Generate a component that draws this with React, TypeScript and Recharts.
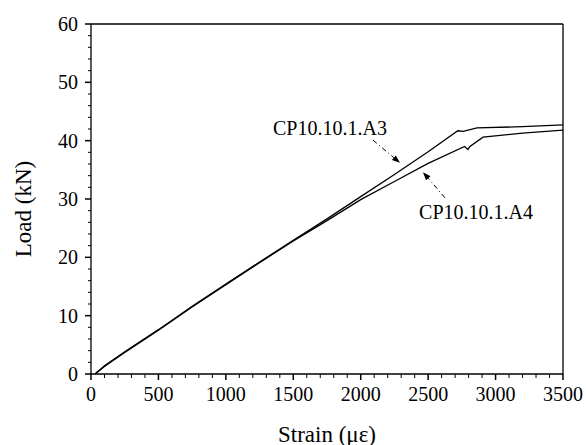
import React from "react";
import {
  LineChart,
  Line,
  XAxis,
  YAxis,
  ReferenceLine,
  ReferenceDot,
} from "recharts";

// strain (με) vs load (kN)
const a3Strain = [30, 100, 250, 500, 750, 1000, 1250, 1500, 1750, 2000, 2250, 2500, 2720, 2760, 2862, 3200, 3500];
const a3Load = [0, 1.4, 3.8, 7.6, 11.6, 15.4, 19.2, 22.9, 26.6, 30.4, 34.2, 38.1, 41.7, 41.6, 42.2, 42.4, 42.7];

const a4Strain = [30, 100, 250, 500, 750, 1000, 1250, 1500, 1750, 2000, 2250, 2500, 2770, 2795, 2810, 2907, 3200, 3500];
const a4Load = [0, 1.3, 3.7, 7.5, 11.5, 15.3, 19.1, 22.8, 26.3, 29.9, 33.0, 36.1, 39.0, 38.5, 39.0, 40.6, 41.3, 41.8];

const xTicks = Array.from({ length: 36 }, (_, i) => i * 100);
const yTicks = Array.from({ length: 31 }, (_, i) => i * 2);

const a3 = a3Strain.map((x, i) => ({ x, load: a3Load[i] }));
const a4 = a4Strain.map((x, i) => ({ x, load: a4Load[i] }));

const FONT = "'Liberation Serif', 'DejaVu Serif', 'Times New Roman', serif";
const txt = { fontFamily: FONT, fill: "#000" };

const XTick = ({ x, y, payload }: any) => {
  const major = payload.value % 500 === 0;
  return (
    <g>
      <line x1={x} x2={x} y1={y} y2={y + (major ? 6 : 4)} stroke="#000" strokeWidth={major ? 1.5 : 1} />
      {major && (
        <text x={x} y={y + 20} textAnchor="middle" dominantBaseline="central" style={{ ...txt, fontSize: 20 }}>
          {payload.value}
        </text>
      )}
    </g>
  );
};

const YTick = ({ x, y, payload }: any) => {
  const major = payload.value % 10 === 0;
  return (
    <g>
      <line x1={x} x2={x - (major ? 6 : 3)} y1={y} y2={y} stroke="#000" strokeWidth={major ? 1.5 : 1} />
      {major && (
        <text x={x - 13} y={y} textAnchor="end" dominantBaseline="central" style={{ ...txt, fontSize: 20 }}>
          {payload.value}
        </text>
      )}
    </g>
  );
};

// dash-dot pointer with a filled head at the second point
const Arrow = ({ x1, y1, x2, y2 }: any) => {
  const ang = Math.atan2(y2 - y1, x2 - x1);
  const len = 8;
  const w = 3;
  const bx = x2 - len * Math.cos(ang);
  const by = y2 - len * Math.sin(ang);
  const px = -Math.sin(ang) * w;
  const py = Math.cos(ang) * w;
  return (
    <g>
      <line x1={x1} y1={y1} x2={bx} y2={by} stroke="#000" strokeWidth={1} strokeDasharray="5 3 1 3" />
      <polygon points={`${x2},${y2} ${bx + px},${by + py} ${bx - px},${by - py}`} fill="#000" />
    </g>
  );
};

const annoLabel = (text: string) => ({
  content: (p: any) => (
    <text
      x={p.viewBox.x + (p.viewBox.width || 0) / 2}
      y={p.viewBox.y + (p.viewBox.height || 0) / 2}
      textAnchor="middle"
      dominantBaseline="central"
      style={{ ...txt, fontSize: 20 }}
    >
      {text}
    </text>
  ),
});

export default function App() {
  return (
    <div style={{ position: "absolute", left: 0, top: 0, background: "#fff" }}>
      <LineChart width={586} height={445} margin={{ top: 24, right: 23, left: 0, bottom: 0 }}>
        <XAxis
          dataKey="x"
          type="number"
          domain={[0, 3500]}
          ticks={xTicks}
          interval={0}
          tickSize={0}
          tickMargin={0}
          tick={<XTick />}
          height={71}
          axisLine={{ stroke: "#000", strokeWidth: 1.3 }}
          label={{
            content: (p: any) => (
              <text
                x={p.viewBox.x + p.viewBox.width / 2}
                y={p.viewBox.y + 60}
                textAnchor="middle"
                dominantBaseline="central"
                style={{ ...txt, fontSize: 23 }}
              >
                Strain (με)
              </text>
            ),
          }}
        />
        <YAxis
          type="number"
          domain={[0, 60]}
          ticks={yTicks}
          interval={0}
          tickSize={0}
          tickMargin={0}
          tick={<YTick />}
          width={91}
          axisLine={{ stroke: "#000", strokeWidth: 1.3 }}
          label={{
            content: (p: any) => {
              const cx = p.viewBox.x + 23;
              const cy = p.viewBox.y + p.viewBox.height / 2 + 10;
              return (
                <text
                  x={cx}
                  y={cy}
                  transform={`rotate(-90 ${cx} ${cy})`}
                  textAnchor="middle"
                  dominantBaseline="central"
                  style={{ ...txt, fontSize: 23 }}
                >
                  Load (kN)
                </text>
              );
            },
          }}
        />
        <ReferenceLine y={60} stroke="#000" strokeWidth={1.3} />
        <ReferenceLine x={3500} stroke="#000" strokeWidth={1.3} />
        <Line data={a3} dataKey="load" type="linear" stroke="#000" strokeWidth={1.3} dot={false} isAnimationActive={false} />
        <Line data={a4} dataKey="load" type="linear" stroke="#000" strokeWidth={1.3} dot={false} isAnimationActive={false} />
        <ReferenceLine segment={[{ x: 2091, y: 40.1 }, { x: 2291, y: 36.2 }]} shape={<Arrow />} />
        <ReferenceLine segment={[{ x: 2625, y: 30.2 }, { x: 2462, y: 34.6 }]} shape={<Arrow />} />
        <ReferenceDot x={1772} y={42.2} r={0} fill="none" stroke="none" label={annoLabel("CP10.10.1.A3")} />
        <ReferenceDot x={2855} y={27.8} r={0} fill="none" stroke="none" label={annoLabel("CP10.10.1.A4")} />
      </LineChart>
    </div>
  );
}
